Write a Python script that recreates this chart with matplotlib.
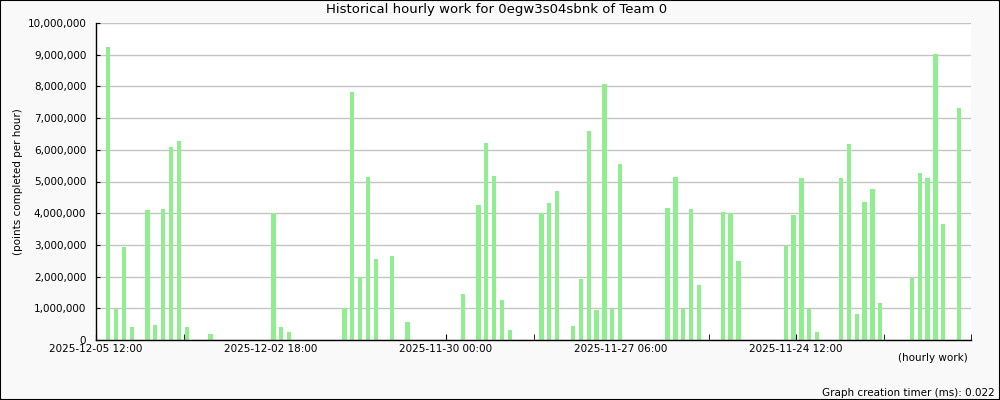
import matplotlib
matplotlib.use('Agg')
import matplotlib.pyplot as plt
from matplotlib.patches import Rectangle
from matplotlib.ticker import FuncFormatter

# 3-hour slots counted back from 2025-12-05 12:00 (newest on the left)
slots = [0, 1, 2, 3, 5, 6, 7, 8, 9, 10, 13, 21, 22, 23,
         30, 31, 32, 33, 34, 36, 38, 45, 47, 48, 49, 50, 51,
         55, 56, 57, 59, 60, 61, 62, 63, 64, 65,
         71, 72, 73, 74, 75, 78, 79, 80,
         86, 87, 88, 89, 90, 93, 94, 95, 96, 97, 98,
         102, 103, 104, 105, 106, 108]
# points completed per slot, millions
points_m = [9.24, 0.99, 2.93, 0.42, 4.10, 0.47, 4.13, 6.09, 6.28, 0.42, 0.19, 4.00, 0.42, 0.25,
            1.00, 7.82, 1.98, 5.14, 2.56, 2.65, 0.57, 1.45, 4.26, 6.21, 5.17, 1.26, 0.32,
            4.00, 4.32, 4.70, 0.44, 1.92, 6.59, 0.95, 8.08, 0.98, 5.55,
            4.16, 5.14, 0.98, 4.13, 1.73, 4.04, 4.00, 2.49,
            2.97, 3.94, 5.11, 0.98, 0.25, 5.11, 6.18, 0.82, 4.35, 4.76, 1.17,
            1.97, 5.27, 5.11, 9.02, 3.66, 7.32]

tick_labels = ['2025-12-05 12:00', '2025-12-02 18:00', '2025-11-30 00:00',
               '2025-11-27 06:00', '2025-11-24 12:00']

hours_per_slot = 2.972
first_offset = 4.53
hours_back = [first_offset + s * hours_per_slot for s in slots]
values = [v * 1e6 for v in points_m]

bg = '#f9f9f9'
fig = plt.figure(figsize=(10, 4), dpi=100, facecolor=bg)
ax = fig.add_axes([0.096, 0.15, 0.875, 0.7925])
ax.set_facecolor('white')

ax.bar(hours_back, values, width=1.6, color='#90ee90', zorder=2)

ax.set_xlim(0, 330)
ax.set_ylim(0, 1e7)
ax.set_axisbelow(True)
ax.grid(axis='y', color='#c4c4c4', linewidth=1)

for side in ['top', 'right']:
    ax.spines[side].set_visible(False)
for side in ['left', 'bottom']:
    ax.spines[side].set_linewidth(1)

ax.set_yticks(range(0, 10000001, 1000000))
ax.yaxis.set_major_formatter(FuncFormatter(lambda v, p: f'{int(v):,}'))
ax.tick_params(axis='y', direction='in', length=3, pad=7, labelsize=7.5)

ax.set_xticks([0, 66, 132, 198, 264])
ax.set_xticklabels(tick_labels)
ax.set_xticks([33, 99, 165, 231, 297, 330], minor=True)
ax.tick_params(axis='x', which='both', direction='in', length=4, pad=3, labelsize=7.5)

ax.set_ylabel('(points completed per hour)', fontsize=7.5, labelpad=3)

fig.text(0.497, 0.975, 'Historical hourly work for 0egw3s04sbnk of Team 0',
         ha='center', va='center', fontsize=9.5)
fig.text(0.968, 0.105, '(hourly work)', ha='right', va='center', fontsize=7.5)
fig.text(0.995, 0.0175, 'Graph creation timer (ms): 0.022', ha='right', va='center', fontsize=7.5)

fig.patches.append(Rectangle((0, 0), 1, 1, transform=fig.transFigure,
                             fill=False, edgecolor='black', linewidth=1.5))

fig.savefig('out.png', dpi=100, facecolor=bg)
